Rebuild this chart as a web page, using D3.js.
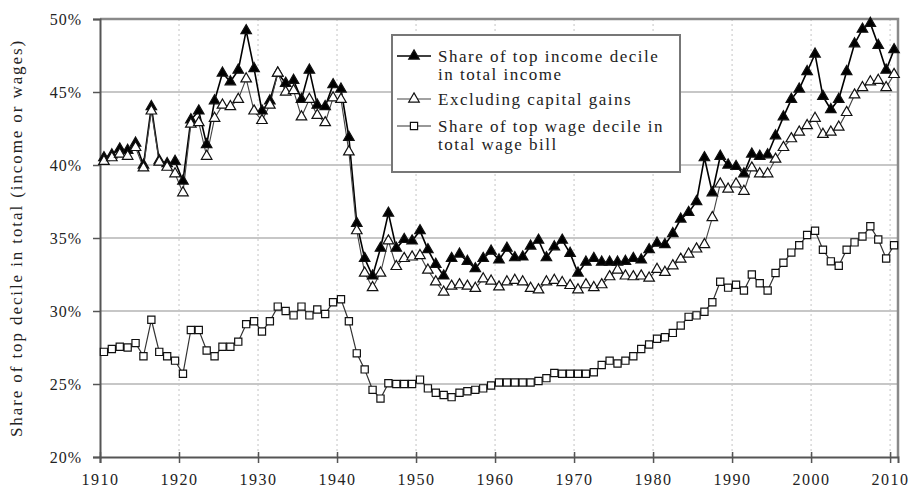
<!DOCTYPE html>
<html>
<head>
<meta charset="utf-8">
<script src="https://cdn.jsdelivr.net/npm/d3@7"></script>
<style>
  body { margin: 0; background: #fff; }
  text { font-family: "Liberation Serif", "DejaVu Serif", serif; fill: #222; }
</style>
</head>
<body>
<svg width="909" height="488"></svg>
<script>
var years = d3.range(1910, 2011);

var topDecile = [40.5, 40.7, 41.1, 41.0, 41.5, 40.0, 44.0, 40.3, 40.1, 40.25,
    38.9, 43.1, 43.7, 41.4, 44.4, 46.3, 45.7, 46.5, 49.2, 46.6,
    43.7, 44.4, 46.3, 45.6, 45.8, 44.5, 46.5, 44.1, 44.0, 45.5,
    45.2, 41.9, 36.0, 33.6, 32.4, 34.3, 36.7, 34.3, 34.9, 34.8,
    35.5, 34.2, 33.2, 32.4, 33.6, 33.9, 33.4, 32.9, 33.6, 34.1,
    33.5, 34.3, 33.65, 33.7, 34.45, 34.85, 33.65, 34.4, 34.85, 33.95,
    32.6, 33.35, 33.6, 33.35, 33.35, 33.35, 33.4, 33.6, 33.5, 34.2,
    34.65, 34.55, 35.3, 36.3, 36.75, 37.5, 40.5, 38.1, 40.6, 40.0,
    39.9, 39.4, 40.75, 40.6, 40.7, 42.0, 43.3, 44.5, 45.2, 46.4,
    47.6, 44.7, 43.8, 44.5, 46.4, 48.3, 49.3, 49.7, 48.2, 46.5,
    47.9];

var exclCapGains = [40.25, 40.5, 40.75, 40.6, 41.2, 39.8, 43.7, 40.2, 39.85, 39.4,
    38.1, 42.8, 42.9, 40.6, 43.2, 44.1, 44.0, 44.5, 45.9, 43.7,
    43.05, 44.1, 46.3, 45.0, 45.1, 43.3, 44.5, 43.4, 42.9, 44.6,
    44.5, 40.9, 35.5, 32.6, 31.6, 32.6, 34.8, 33.05, 33.6, 33.7,
    33.8, 32.8, 32.0, 31.3, 31.7, 31.8, 31.7, 31.55, 32.2, 32.05,
    31.65, 32.0, 32.1, 32.0, 31.55, 31.45, 32.0, 32.1, 31.95, 31.75,
    31.45, 31.8, 31.6, 31.8, 32.35, 32.8, 32.4, 32.35, 32.4, 32.25,
    32.85, 32.65, 33.1, 33.55, 33.9, 34.25, 34.55, 36.4, 38.7, 38.35,
    38.7, 38.2, 39.8, 39.4, 39.4, 40.4, 41.2, 41.8, 42.25, 42.7,
    43.2, 42.1, 42.25, 42.6, 43.6, 44.8, 45.3, 45.7, 45.8, 45.3,
    46.2];

var wageDecile = [27.2, 27.4, 27.55, 27.5, 27.8, 26.9, 29.4, 27.2, 26.9, 26.6,
    25.7, 28.7, 28.7, 27.3, 26.9, 27.55, 27.55, 27.9, 29.1, 29.3,
    28.6, 29.3, 30.3, 30.0, 29.7, 30.3, 29.7, 30.1, 29.8, 30.6,
    30.8, 29.3, 27.1, 26.0, 24.6, 24.0, 25.05, 25.0, 25.0, 25.0,
    25.3, 24.7, 24.4, 24.25, 24.1, 24.4, 24.5, 24.6, 24.7, 24.9,
    25.1, 25.1, 25.1, 25.1, 25.1, 25.2, 25.4, 25.75, 25.7, 25.7,
    25.7, 25.7, 25.8, 26.3, 26.6, 26.4, 26.6, 26.9, 27.4, 27.7,
    28.1, 28.2, 28.5, 29.0, 29.6, 29.7, 29.95, 30.6, 32.0, 31.6,
    31.8, 31.4, 32.5, 31.9, 31.4, 32.6, 33.3, 34.0, 34.5, 35.2,
    35.5, 34.2, 33.4, 33.1, 34.2, 34.7, 35.1, 35.8, 34.9, 33.6,
    34.5];

var yTicks = [20, 25, 30, 35, 40, 45, 50];
var xTicks = d3.range(1910, 2011, 10);

var legendLabels = [
    ["Share of top income decile", "in total income"],
    ["Excluding capital gains"],
    ["Share of top wage decile in", "total wage bill"]
];

var svg = d3.select("svg");
var mLeft = 100, mRight = 898, mTop = 19, mBottom = 457;

var x = d3.scaleLinear().domain([1910, 2011]).range([mLeft, mRight]);
var y = d3.scaleLinear().domain([20, 50]).range([mBottom, mTop]);

// point for a year sits in the middle of its slot
function px(i) { return x(years[i] + 0.5); }

// grid
svg.append("g").selectAll("line")
    .data(yTicks.filter(function (d) { return d > 20 && d < 50; }))
    .enter().append("line")
    .attr("x1", mLeft).attr("x2", mRight)
    .attr("y1", function (d) { return y(d); })
    .attr("y2", function (d) { return y(d); })
    .attr("stroke", "#b4b4b4")
    .attr("stroke-width", 1.5);

svg.append("g").selectAll("line")
    .data(xTicks.filter(function (d) { return d > 1910; }))
    .enter().append("line")
    .attr("x1", function (d) { return x(d); })
    .attr("x2", function (d) { return x(d); })
    .attr("y1", mTop).attr("y2", mBottom)
    .attr("stroke", "#c4c4c4")
    .attr("stroke-width", 1)
    .attr("stroke-dasharray", "2,3");

// frame
svg.append("path")
    .attr("d", "M" + mLeft + "," + mTop + "H" + mRight + "V" + mBottom)
    .attr("fill", "none")
    .attr("stroke", "#8a8a8a")
    .attr("stroke-width", 2.5);

// axes
var yAxis = svg.append("g")
    .attr("transform", "translate(" + mLeft + ",0)")
    .call(d3.axisLeft(y).tickValues(yTicks).tickSize(7).tickPadding(11)
        .tickFormat(function (d) { return d + "%"; }));
yAxis.select(".domain").attr("stroke", "#555").attr("stroke-width", 2);
yAxis.selectAll(".tick line").attr("stroke", "#555").attr("stroke-width", 1.5);
yAxis.selectAll(".tick text").style("font-size", "16px")
    .style("letter-spacing", "1px").attr("fill", "#333");

var xAxis = svg.append("g")
    .attr("transform", "translate(0," + mBottom + ")")
    .call(d3.axisBottom(x).tickValues(xTicks).tickSize(6).tickPadding(11)
        .tickFormat(d3.format("d")));
xAxis.select(".domain").attr("stroke", "#555").attr("stroke-width", 2);
xAxis.selectAll(".tick line").attr("stroke", "#555").attr("stroke-width", 1.5)
    .attr("y1", -5);
xAxis.selectAll(".tick text").style("font-size", "16px")
    .style("letter-spacing", "1.5px").attr("fill", "#333");

svg.append("text")
    .attr("transform", "translate(22," + ((mTop + mBottom) / 2) + ") rotate(-90)")
    .attr("text-anchor", "middle")
    .style("font-size", "17px")
    .style("letter-spacing", "1.9px")
    .text("Share of top decile in total (income or wages)");

var tri = d3.symbol().type(d3.symbolTriangle).size(48);
var sq = d3.symbol().type(d3.symbolSquare).size(52);

var series = [
    { values: wageDecile, symbol: sq, fill: "#fff", line: "#333", lw: 1.2 },
    { values: topDecile, symbol: tri, fill: "#000", line: "#000", lw: 1.6 },
    { values: exclCapGains, symbol: tri, fill: "#fff", line: "#444", lw: 1.1 }
];

var line = d3.line()
    .x(function (d, i) { return px(i); })
    .y(function (d) { return y(d); });

series.forEach(function (s) {
    svg.append("path")
        .datum(s.values)
        .attr("d", line)
        .attr("fill", "none")
        .attr("stroke", s.line)
        .attr("stroke-width", s.lw);
});

series.forEach(function (s) {
    svg.append("g").selectAll("path")
        .data(s.values)
        .enter().append("path")
        .attr("d", s.symbol)
        .attr("transform", function (d, i) { return "translate(" + px(i) + "," + y(d) + ")"; })
        .attr("fill", s.fill)
        .attr("stroke", "#111")
        .attr("stroke-width", 1.2);
});

// legend
var legend = svg.append("g");
legend.append("rect")
    .attr("x", 392).attr("y", 35)
    .attr("width", 288).attr("height", 137)
    .attr("fill", "#fff")
    .attr("stroke", "#777")
    .attr("stroke-width", 2);

var legendSeries = [series[1], series[2], series[0]];
var rowY = [56, 99, 126];
legendSeries.forEach(function (s, k) {
    var g = legend.append("g").attr("transform", "translate(0," + rowY[k] + ")");
    g.append("line")
        .attr("x1", 397).attr("x2", 431)
        .attr("stroke", s.line).attr("stroke-width", s.lw);
    g.append("path")
        .attr("d", s.symbol)
        .attr("transform", "translate(414,0)")
        .attr("fill", s.fill)
        .attr("stroke", "#111")
        .attr("stroke-width", 1.2);
    g.selectAll("text")
        .data(legendLabels[k])
        .enter().append("text")
        .attr("x", 438)
        .attr("y", function (d, j) { return 6 + j * 18; })
        .style("font-size", "17px")
        .style("letter-spacing", "1.5px")
        .text(function (d) { return d; });
});
</script>
</body>
</html>
